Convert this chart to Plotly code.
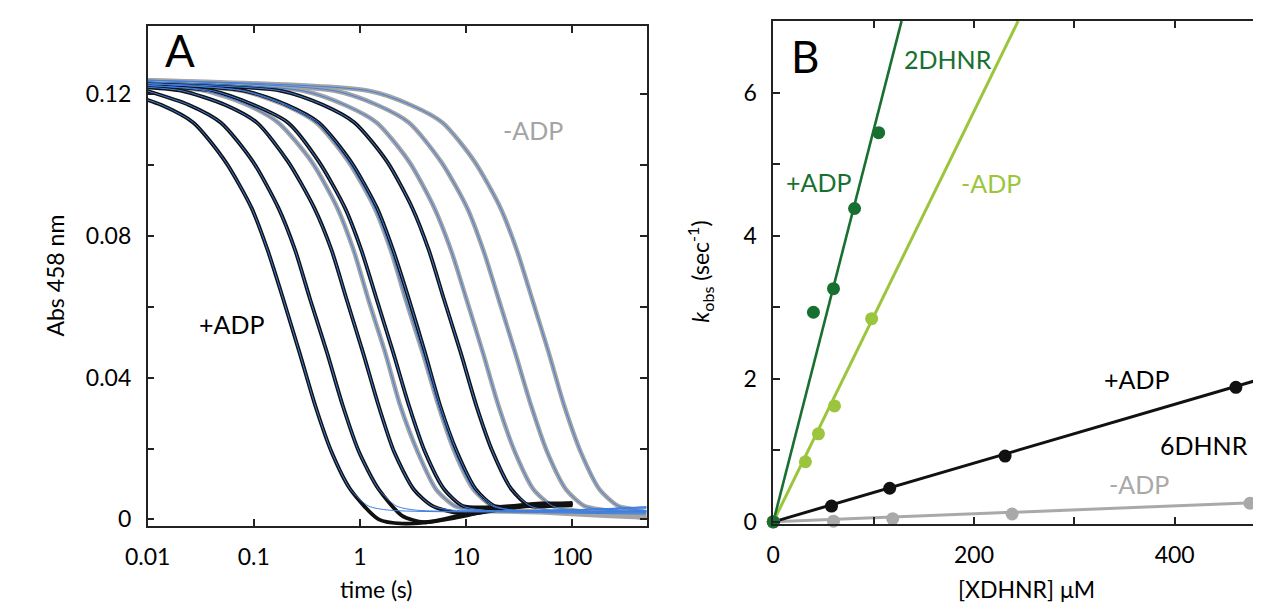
import math
import plotly.graph_objects as go

W, H = 1261, 608

# ---------------- Panel A: absorbance traces ----------------
# absorbance levels the traces pass through, and the times (s) at which each trace crosses them
LEVELS = [0.121, 0.117, 0.112, 0.101, 0.088, 0.076, 0.062, 0.047, 0.032, 0.019, 0.0085, 0.0038, 0.0026]

b1_t = [0.0054, 0.0135, 0.027, 0.054, 0.095, 0.135, 0.19, 0.27, 0.38, 0.54, 0.81, 1.2, 1.9]
b2_t = [0.0098, 0.0245, 0.049, 0.098, 0.17, 0.245, 0.34, 0.49, 0.69, 0.98, 1.5, 2.2, 3.4]
b3_t = [0.021, 0.054, 0.107, 0.21, 0.37, 0.54, 0.75, 1.07, 1.5, 2.1, 3.2, 4.8, 7.5]
b4_t = [0.041, 0.10, 0.21, 0.41, 0.72, 1.03, 1.44, 2.06, 2.9, 4.1, 6.2, 9.3, 14.4]
b5_t = [0.082, 0.205, 0.41, 0.82, 1.44, 2.05, 2.9, 4.1, 5.7, 8.2, 12.3, 18.5, 29]
b6_t = [0.18, 0.45, 0.89, 1.8, 3.1, 4.45, 6.2, 8.9, 12.5, 17.8, 26.7, 40, 62]

g1_t = [0.035, 0.087, 0.17, 0.35, 0.61, 0.87, 1.2, 1.73, 2.4, 3.5, 5.2, 7.8, 12.1]
g2_t = [0.078, 0.195, 0.39, 0.78, 1.37, 1.95, 2.7, 3.9, 5.5, 7.8, 11.7, 17.6, 27.3]
g3_t = [0.29, 0.72, 1.44, 2.9, 5.0, 7.2, 10.1, 14.4, 20.2, 28.8, 43, 65, 101]
g4_t = [0.58, 1.45, 2.9, 5.8, 10.2, 14.5, 20.3, 29, 41, 58, 87, 130, 203]
g5_t = [1.2, 3.0, 6.0, 12, 21, 30, 42, 60, 84, 120, 180, 270, 420]

# start values at t = 0.01 s and plateau values at 500 s for the blue fits
black_start = [None, None, 0.122, 0.1225, 0.123, 0.123]
gray_start = [0.1225, 0.123, 0.1235, 0.124, 0.124]
black_plateau = [0.0022, 0.0025, 0.003, 0.0033, 0.0035, 0.0036]
gray_plateau = [0.0015, 0.0018, 0.002, 0.0022, 0.0024]

# tails of the measured (black) traces after the decay; black data end at 100 s
b1_tail_t = [1.5, 2.5, 5, 10, 30, 100]
b1_tail_y = [0.0, -0.0012, -0.0005, 0.0015, 0.0035, 0.004]
b2_tail_t = [2.5, 4, 8, 20, 50, 100]
b2_tail_y = [0.001, -0.0008, 0.0005, 0.003, 0.004, 0.004]
b3_tail_t = [10, 30, 100]
b3_tail_y = [0.0015, 0.0035, 0.0045]
b4_tail_t = [20, 50, 100]
b4_tail_y = [0.0035, 0.0045, 0.0045]
b5_tail_t = [40, 100]
b5_tail_y = [0.004, 0.0045]
b6_tail_t = [100]
b6_tail_y = [0.0045]

# tails of the measured (gray) traces
g1_tail_t = [50, 200, 500]
g1_tail_y = [0.002, 0.001, 0.0005]
g2_tail_t = [100, 500]
g2_tail_y = [0.002, 0.0005]
g3_tail_t = [200, 500]
g3_tail_y = [0.0015, 0.0005]
g4_tail_t = [500]
g4_tail_y = [0.001]
g5_tail_t = [500]
g5_tail_y = [0.0018]

A_xticks = [0.01, 0.1, 1, 10, 100]
A_xlabels = ["0.01", "0.1", "1", "10", "100"]
A_yticks = [0, 0.04, 0.08, 0.12]
A_ylabels = ["0", "0.04", "0.08", "0.12"]
A_yminor = [0.02, 0.06, 0.10]

# ---------------- Panel B: kobs vs [XDHNR] ----------------
dg_x = [0, 40, 60, 81, 105]          # 2DHNR +ADP
dg_y = [0, 2.93, 3.26, 4.38, 5.44]
lg_x = [0, 32, 45, 61, 98]           # 2DHNR -ADP
lg_y = [0, 0.84, 1.23, 1.62, 2.84]
bk_x = [0, 58, 116, 231, 461]        # 6DHNR +ADP
bk_y = [0, 0.22, 0.47, 0.92, 1.88]
gr_x = [0, 60, 119, 238, 475]        # 6DHNR -ADP
gr_y = [0, 0.01, 0.045, 0.11, 0.26]

dg_fit_x, dg_fit_y = [0, 127.8], [0, 7.0]
lg_fit_x, lg_fit_y = [0, 244], [0, 7.0]
bk_fit_x, bk_fit_y = [0, 492], [0, 2.02]
gr_fit_x, gr_fit_y = [0, 492], [0, 0.275]

B_xticks = [0, 200, 400]
B_xlabels = ["0", "200", "400"]
B_xminor = [100, 300]
B_yticks = [0, 2, 4, 6]
B_ylabels = ["0", "2", "4", "6"]
B_yminor = [1, 3, 5, 7]

# ---------------- styling ----------------
FONT = "Lato"
BLACK = "#111111"
GRAY = "#a4a4a4"
BLUE = "#3f7fe0"
DGREEN = "#187030"
LGREEN = "#9bc53d"
GRAY_B = "#a9a9a9"
AXC = "#222222"

fig = go.Figure()

black_t = [b1_t, b2_t, b3_t, b4_t, b5_t, b6_t]
black_tail_t = [b1_tail_t, b2_tail_t, b3_tail_t, b4_tail_t, b5_tail_t, b6_tail_t]
black_tail_y = [b1_tail_y, b2_tail_y, b3_tail_y, b4_tail_y, b5_tail_y, b6_tail_y]
black_cut = [11, 11, 12, 12, 12, 12]
gray_t = [g1_t, g2_t, g3_t, g4_t, g5_t]
gray_tail_t = [g1_tail_t, g2_tail_t, g3_tail_t, g4_tail_t, g5_tail_t]
gray_tail_y = [g1_tail_y, g2_tail_y, g3_tail_y, g4_tail_y, g5_tail_y]


def head(t_list, start):
    if start is not None and t_list[0] > 0.01:
        return [0.01], [start]
    return [], []


# measured traces (gray first, then black)
for ts, st, tt, ty in zip(gray_t, gray_start, gray_tail_t, gray_tail_y):
    hx, hy = head(ts, st)
    fig.add_trace(go.Scatter(x=hx + ts + tt, y=hy + LEVELS + ty, mode="lines",
                             line=dict(color=GRAY, width=4.5, shape="spline", smoothing=0.7),
                             xaxis="x", yaxis="y", hoverinfo="skip"))
for ts, st, cut, tt, ty in zip(black_t, black_start, black_cut, black_tail_t, black_tail_y):
    hx, hy = head(ts, st)
    fig.add_trace(go.Scatter(x=hx + ts[:cut] + tt, y=hy + LEVELS[:cut] + ty, mode="lines",
                             line=dict(color=BLACK, width=3.8, shape="spline", smoothing=0.7),
                             xaxis="x", yaxis="y", hoverinfo="skip"))
# blue fits
for ts, st, pl in zip(black_t + gray_t, black_start + gray_start, black_plateau + gray_plateau):
    hx, hy = head(ts, st)
    fig.add_trace(go.Scatter(x=hx + ts + [500], y=hy + LEVELS + [pl], mode="lines",
                             line=dict(color=BLUE, width=1.0, shape="spline", smoothing=0.7),
                             xaxis="x", yaxis="y", hoverinfo="skip"))

# panel B fit lines
for fx, fy, col, w in [(gr_fit_x, gr_fit_y, GRAY_B, 3), (bk_fit_x, bk_fit_y, BLACK, 3),
                       (lg_fit_x, lg_fit_y, LGREEN, 3), (dg_fit_x, dg_fit_y, DGREEN, 2.6)]:
    fig.add_trace(go.Scatter(x=fx, y=fy, mode="lines", line=dict(color=col, width=w),
                             xaxis="x2", yaxis="y2", hoverinfo="skip"))
# panel B points
for dx, dy, col in [(gr_x, gr_y, GRAY_B), (bk_x, bk_y, BLACK), (lg_x, lg_y, LGREEN), (dg_x, dg_y, DGREEN)]:
    fig.add_trace(go.Scatter(x=dx, y=dy, mode="markers", marker=dict(color=col, size=13),
                             xaxis="x2", yaxis="y2", hoverinfo="skip", cliponaxis=False))


def axis(**kw):
    base = dict(showline=True, linecolor=AXC, linewidth=1.5, mirror="ticks",
                ticks="inside", ticklen=7, tickwidth=1.5, tickcolor=AXC,
                showgrid=False, zeroline=False, ticklabelstandoff=10,
                tickfont=dict(family=FONT, size=23, color="black"))
    base.update(kw)
    return base


def minor(vals):
    return dict(tickvals=vals, ticks="inside", ticklen=7, tickwidth=1.5, tickcolor=AXC, showgrid=False)


fig.update_layout(
    width=W, height=H, margin=dict(l=0, r=0, t=0, b=0),
    paper_bgcolor="white", plot_bgcolor="white", showlegend=False,
    font=dict(family=FONT, size=22, color="black"),
    xaxis=axis(domain=[119 / W, 628 / W], type="log", range=[-2, math.log10(500)],
               tickvals=A_xticks, ticktext=A_xlabels, anchor="y"),
    yaxis=axis(domain=[1 - 527.3 / H, 1 - 18.3 / H], range=[-0.0018, 0.1393],
               tickvals=A_yticks, ticktext=A_ylabels, minor=minor(A_yminor), anchor="x"),
    xaxis2=axis(domain=[757.3 / W, 1.0], range=[0, 492],
                tickvals=B_xticks, ticktext=B_xlabels, minor=minor(B_xminor), anchor="y2"),
    yaxis2=axis(domain=[1 - 525 / H, 1 - 13.3 / H], range=[-0.023, 7],
                tickvals=B_yticks, ticktext=B_ylabels, minor=minor(B_yminor), anchor="x2"),
)


def ann(text, x, y, size, color="black", angle=0):
    fig.add_annotation(text=text, x=x / W, y=1 - y / H, xref="paper", yref="paper",
                       showarrow=False, textangle=angle, xanchor="center", yanchor="middle",
                       font=dict(family=FONT, size=size, color=color))


ann("A", 152, 43, 44)
ann("B", 790, 49, 44)
ann("-ADP", 512, 124, 25, GRAY)
ann("+ADP", 205, 322, 25, "black")
ann("2DHNR", 936, 52, 25, DGREEN)
ann("+ADP", 803, 177, 25, DGREEN)
ann("-ADP", 979, 178, 25, LGREEN)
ann("+ADP", 1128, 378, 25, "black")
ann("6DHNR", 1197, 445, 25, "black")
ann("-ADP", 1130, 485, 25, GRAY_B)
ann("time (s)", 352, 592, 23)
ann("[XDHNR] μM", 1016, 592, 23)
ann("Abs 458 nm", 25, 273, 23, angle=-90)
ann("<i>k</i><sub>obs</sub> (sec<sup>-1</sup>)", 682, 268, 23, angle=-90)

fig.write_html("out.html")
